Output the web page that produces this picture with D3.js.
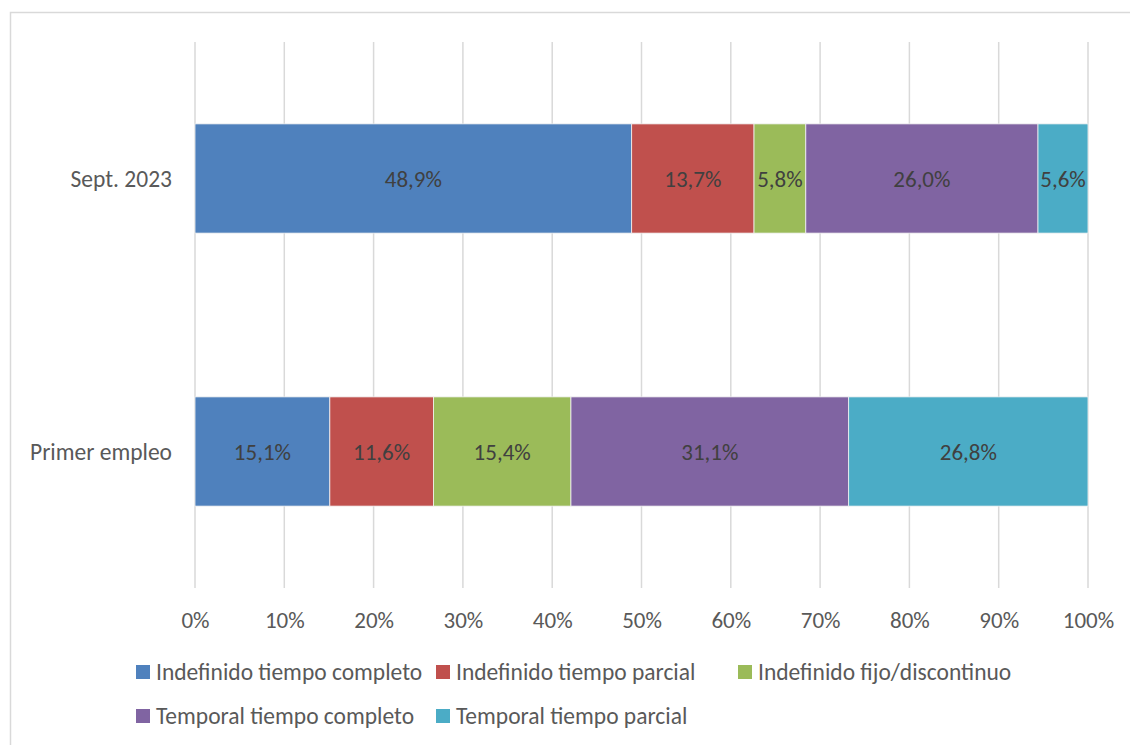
<!DOCTYPE html>
<html>
<head>
<meta charset="utf-8">
<script src="https://cdn.jsdelivr.net/npm/d3@7"></script>
<style>
  html, body { margin: 0; padding: 0; background: #fff; }
  svg { display: block; font-family: Carlito, Lato, "Open Sans", sans-serif; }
</style>
</head>
<body>
<svg id="chart" width="1130" height="745"></svg>
<script>
const categories = ["Sept. 2023", "Primer empleo"];
const seriesNames = [
  "Indefinido tiempo completo",
  "Indefinido tiempo parcial",
  "Indefinido fijo/discontinuo",
  "Temporal tiempo completo",
  "Temporal tiempo parcial"
];
const seriesColors = ["#4F81BD", "#C0504D", "#9BBB59", "#8064A2", "#4BACC6"];
const valuesSept2023 = [48.9, 13.7, 5.8, 26.0, 5.6];
const valuesPrimerEmpleo = [15.1, 11.6, 15.4, 31.1, 26.8];
const tickValues = [0, 10, 20, 30, 40, 50, 60, 70, 80, 90, 100];

const rows = [
  { cat: categories[0], vals: valuesSept2023 },
  { cat: categories[1], vals: valuesPrimerEmpleo }
];
const table = rows.map(r => {
  const o = { cat: r.cat };
  seriesNames.forEach((s, i) => o[s] = r.vals[i]);
  return o;
});

const svg = d3.select("#chart");
const fmt = v => d3.format(".1f")(v).replace(".", ",") + "%";
const FONT = "Carlito, Lato, 'Open Sans', sans-serif";

// outer border
svg.append("rect").attr("x", 10.5).attr("y", 12.5).attr("width", 1130).attr("height", 745)
  .attr("fill", "none").attr("stroke", "#d9d9d9").attr("stroke-width", 1.5);

const x = d3.scaleLinear().domain([0, 100]).range([195, 1088]);
const y = d3.scaleBand().domain(categories).range([42, 588]).paddingInner(0.6).paddingOuter(0.3);

// gridlines
svg.append("g").selectAll("line").data(tickValues).join("line")
  .attr("x1", d => x(d)).attr("x2", d => x(d))
  .attr("y1", 42).attr("y2", 588)
  .attr("stroke", "#d9d9d9").attr("stroke-width", 1.5);

// x axis labels
const xAxis = d3.axisBottom(x).tickValues(tickValues).tickSize(0).tickPadding(0)
  .tickFormat(d => d + "%");
const gx = svg.append("g").attr("transform", "translate(0,588)").call(xAxis);
gx.select(".domain").remove();
gx.selectAll("text").attr("font-size", 23).attr("fill", "#595959")
  .attr("font-family", FONT)
  .attr("dy", "0.35em").attr("y", 32);

// y axis labels
const yAxis = d3.axisLeft(y).tickSize(0).tickPadding(0);
const gy = svg.append("g").attr("transform", "translate(172,0)").call(yAxis);
gy.select(".domain").remove();
gy.selectAll("text").attr("font-size", 23.5).attr("fill", "#595959")
  .attr("font-family", FONT)
  .attr("dy", "0.35em");

// stacked bars
const stack = d3.stack().keys(seriesNames);
const stacked = stack(table);
const color = d3.scaleOrdinal().domain(seriesNames).range(seriesColors);

const layers = svg.append("g").selectAll("g").data(stacked).join("g")
  .attr("fill", d => color(d.key));
layers.selectAll("rect").data(d => d).join("rect")
  .attr("x", d => x(d[0]))
  .attr("width", d => x(d[1]) - x(d[0]))
  .attr("y", d => y(d.data.cat))
  .attr("height", y.bandwidth())
  .attr("stroke", "#f2f2f2").attr("stroke-width", 0.8);

// data labels
layers.selectAll("text").data(d => d.map(p => ({ p, key: d.key }))).join("text")
  .attr("x", d => (x(d.p[0]) + x(d.p[1])) / 2)
  .attr("y", d => y(d.p.data.cat) + y.bandwidth() / 2)
  .attr("dy", "0.35em")
  .attr("text-anchor", "middle")
  .attr("font-size", 23)
  .attr("fill", "#404040")
  .text(d => fmt(d.p[1] - d.p[0]));

// legend
const legendPos = [
  { x: 136, y: 672 }, { x: 436, y: 672 }, { x: 738, y: 672 },
  { x: 136, y: 716 }, { x: 436, y: 716 }
];
const lg = svg.append("g").selectAll("g").data(seriesNames).join("g")
  .attr("transform", (d, i) => `translate(${legendPos[i].x},${legendPos[i].y})`);
lg.append("rect").attr("x", 0).attr("y", -7).attr("width", 14).attr("height", 14)
  .attr("fill", d => color(d));
lg.append("text").attr("x", 20).attr("dy", "0.35em").attr("font-size", 23.5)
  .attr("fill", "#595959").text(d => d);
</script>
</body>
</html>
